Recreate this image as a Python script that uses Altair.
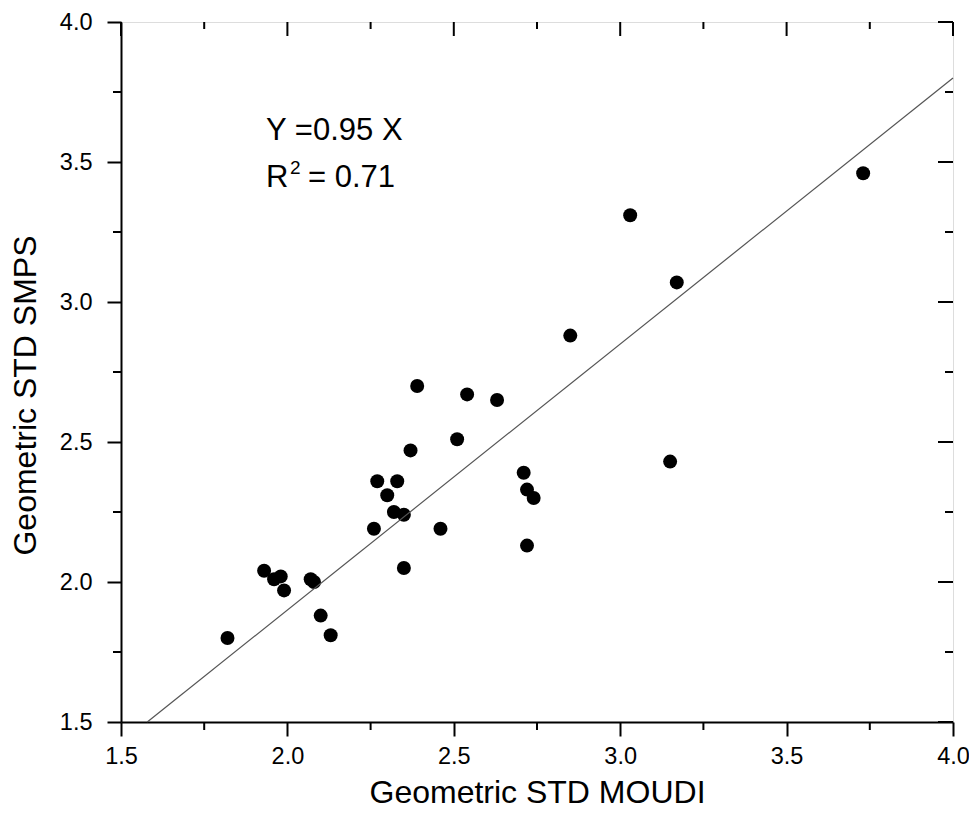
import altair as alt
import pandas as pd

# ---- data ----
moudi = [1.82, 1.93, 1.96, 1.98, 1.99, 2.07, 2.08, 2.10, 2.13, 2.26, 2.27, 2.30, 2.32, 2.33,
         2.35, 2.35, 2.37, 2.39, 2.46, 2.51, 2.54, 2.63, 2.71, 2.72, 2.72, 2.74, 2.85, 3.03,
         3.15, 3.17, 3.73]
smps = [1.80, 2.04, 2.01, 2.02, 1.97, 2.01, 2.00, 1.88, 1.81, 2.19, 2.36, 2.31, 2.25, 2.36,
        2.24, 2.05, 2.47, 2.70, 2.19, 2.51, 2.67, 2.65, 2.39, 2.33, 2.13, 2.30, 2.88, 3.31,
        2.43, 3.07, 3.46]
fit_slope = 0.95
fit_x = [1.5 / fit_slope, 4.0]
major_ticks = [1.5, 2.0, 2.5, 3.0, 3.5, 4.0]
minor_ticks = [1.75, 2.25, 2.75, 3.25, 3.75]

FONT = "Liberation Sans"
W, H = 832, 700
LABEL_SIZE = 23.5

pts = pd.DataFrame({"moudi": moudi, "smps": smps})
fit = pd.DataFrame({"x": fit_x, "y": [fit_slope * v for v in fit_x]})
maj = pd.DataFrame({"v": major_ticks})
mnr = pd.DataFrame({"v": minor_ticks})

xs = alt.Scale(domain=[1.5, 4.0], nice=False, zero=False)
ys = alt.Scale(domain=[1.5, 4.0], nice=False, zero=False)

x_axis = alt.Axis(values=major_ticks, format=".1f", grid=False, tickSize=14, tickWidth=2,
                  tickColor="black", domainColor="black", domainWidth=2,
                  labelFont=FONT, labelFontSize=LABEL_SIZE, labelColor="black", labelPadding=8,
                  labelFlush=False, labelOverlap=False,
                  title="Geometric STD MOUDI", titleFont=FONT, titleFontSize=32,
                  titleFontWeight="normal", titleColor="black",
                  titleX=W / 2, titleY=70, titleAlign="center", titleBaseline="middle")
y_axis = alt.Axis(values=major_ticks, format=".1f", grid=False, tickSize=14, tickWidth=2,
                  tickColor="black", domainColor="black", domainWidth=2,
                  labelFont=FONT, labelFontSize=LABEL_SIZE, labelColor="black", labelPadding=15,
                  labelFlush=False, labelOverlap=False,
                  title="Geometric STD SMPS", titleFont=FONT, titleFontSize=32,
                  titleFontWeight="normal", titleColor="black",
                  titleX=-96, titleY=373, titleAngle=270, titleAlign="center",
                  titleBaseline="middle")


def X(field):
    return alt.X(field, scale=xs, axis=x_axis)


def Y(field):
    return alt.Y(field, scale=ys, axis=y_axis)


scatter = alt.Chart(pts).mark_circle(size=195, color="black", opacity=1).encode(
    x=X("moudi:Q"), y=Y("smps:Q"))

line = alt.Chart(fit).mark_line(color="#555555", strokeWidth=1.2).encode(
    x=X("x:Q"), y=Y("y:Q"))

# extra ticks: minor outward on bottom/left, inward on top/right
tick_style = dict(color="black", strokeWidth=2)
bottom_minor = alt.Chart(mnr).mark_rule(**tick_style).encode(
    x=X("v:Q"), y=alt.value(H), y2=alt.value(H + 8))
left_minor = alt.Chart(mnr).mark_rule(**tick_style).encode(
    y=Y("v:Q"), x=alt.value(0), x2=alt.value(-8))
top_major = alt.Chart(maj).mark_rule(**tick_style).encode(
    x=X("v:Q"), y=alt.value(0), y2=alt.value(14))
top_minor = alt.Chart(mnr).mark_rule(**tick_style).encode(
    x=X("v:Q"), y=alt.value(0), y2=alt.value(7))
right_major = alt.Chart(maj).mark_rule(**tick_style).encode(
    y=Y("v:Q"), x=alt.value(W), x2=alt.value(W - 15))
right_minor = alt.Chart(mnr).mark_rule(**tick_style).encode(
    y=Y("v:Q"), x=alt.value(W), x2=alt.value(W - 8))


def label(x, y, text, size):
    d = pd.DataFrame({"x": [x], "y": [y], "t": [text]})
    return alt.Chart(d).mark_text(align="left", baseline="alphabetic", font=FONT,
                                  fontSize=size, color="black").encode(
        x=X("x:Q"), y=Y("y:Q"), text="t:N")


ann1 = label(1.936, 3.577, "Y =0.95 X", 31)
ann2 = label(1.936, 3.410, "R", 31)
ann3 = label(2.008, 3.458, "2", 19)
ann4 = label(2.062, 3.410, "= 0.71", 31)

chart = alt.layer(
    scatter, line, bottom_minor, left_minor, top_major, top_minor, right_major, right_minor,
    ann1, ann2, ann3, ann4,
).properties(
    width=W, height=H,
    autosize=alt.AutoSizeParams(type="none"),
    padding={"left": 113, "top": 14, "right": 16, "bottom": 94},
).configure_view(
    stroke="black", strokeWidth=2
).configure_axis(
    labelFont=FONT, labelFontSize=LABEL_SIZE, labelColor="black"
).configure(background="white")

chart.save("out.html", embed_options={"renderer": "svg", "actions": False})
